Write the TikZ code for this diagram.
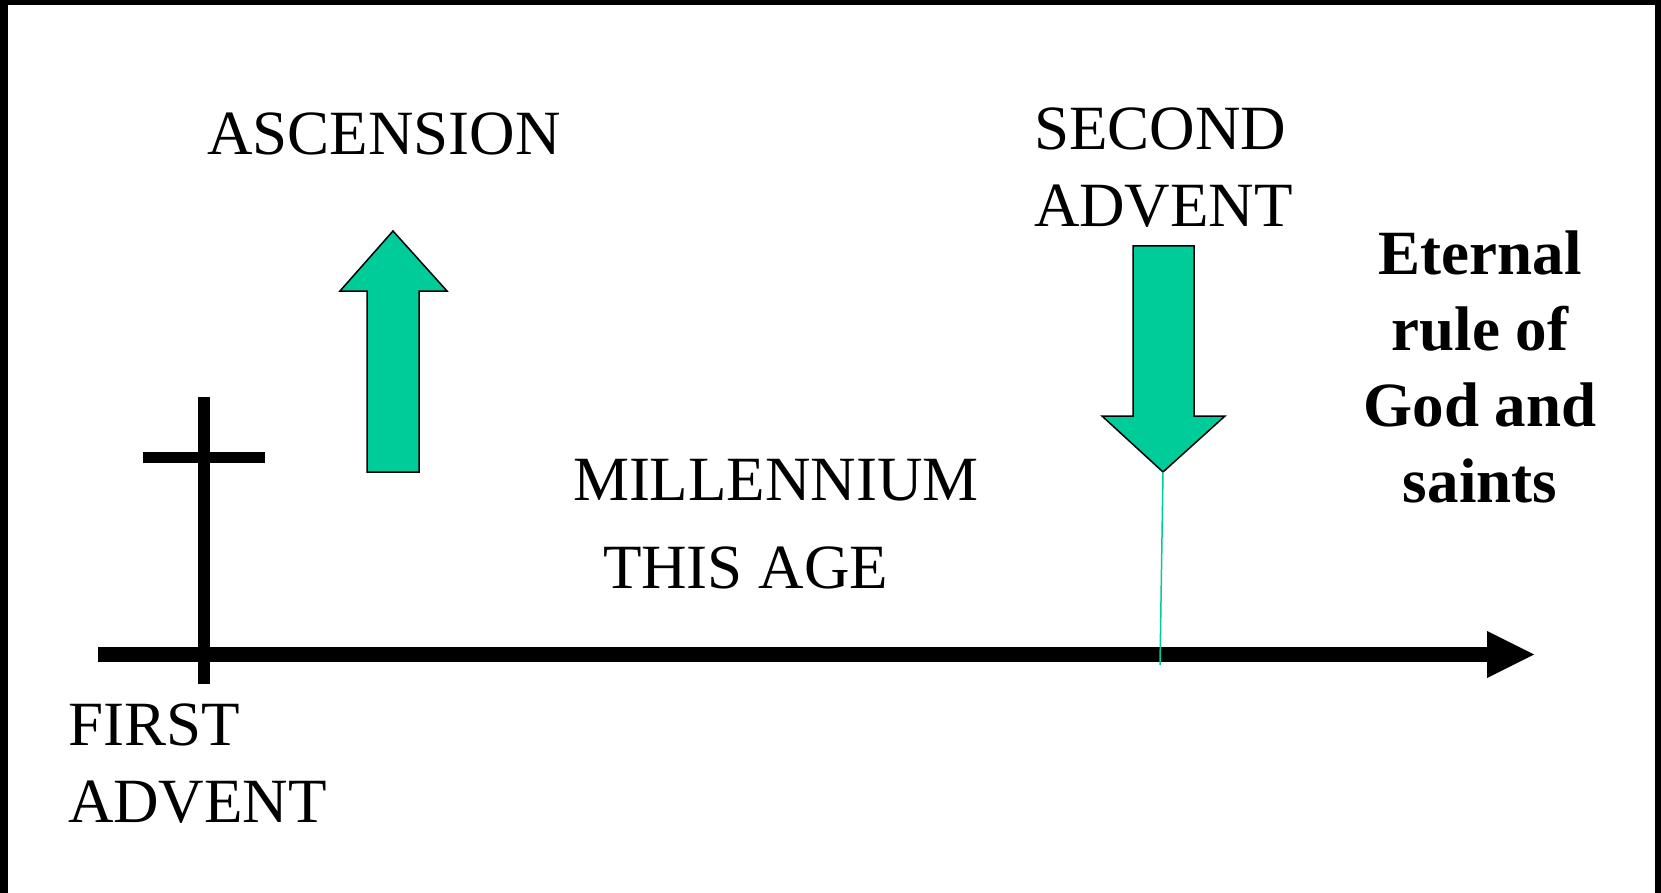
\documentclass[tikz,border=0pt]{standalone}
\usepackage{fontspec}
\setmainfont{Liberation Serif}
\definecolor{teal}{HTML}{00CC99}
\begin{document}
\begin{tikzpicture}[x=1pt,y=-1pt,
  lbl/.style={inner sep=0pt,outer sep=0pt,anchor=base west,align=left,font=\fontsize{63}{77}\selectfont},
  blbl/.style={inner sep=0pt,outer sep=0pt,anchor=base,align=center,font=\fontsize{63}{76}\selectfont\bfseries},
  bigarrow/.style={fill=teal,draw=black,line width=1.5pt,line join=miter},
  bar/.style={draw=black,line cap=butt}]
\useasboundingbox (0,0) rectangle (1661,893);
\fill[white] (0,0) rectangle (1661,893);
% border
\fill[black] (0,0) rectangle (8,893);
\fill[black] (0,0) rectangle (1661,5);
\fill[black] (1655,0) rectangle (1661,893);
% coordinates
\coordinate (axL) at (98,654.5);
\coordinate (axH) at (1487,654.5);
\coordinate (axT) at (1534,654.5);
\coordinate (crT) at (204,397);
\coordinate (crB) at (204,684);
\coordinate (cbL) at (143,457.5);
\coordinate (cbR) at (265,457.5);
\coordinate (dTip) at (1163,472);
\coordinate (dEnd) at (1160,665);
% cross
\draw[bar,line width=12pt] (crT) -- (crB);
\draw[bar,line width=11.5pt] (cbL) -- (cbR);
% time axis
\draw[bar,line width=15pt] (axL) -- (axH);
\fill[black] (1487,631) -- (axT) -- (1487,678) -- cycle;
% ascension arrow
\draw[bigarrow] (367,472) -- (367,291) -- (340,291) -- (393,231) -- (447,291) -- (419,291) -- (419,472) -- cycle;
% second advent arrow
\draw[bigarrow] (1133,246) -- (1194,246) -- (1194,416) -- (1225,416) -- (dTip) -- (1102,416) -- (1133,416) -- cycle;
\draw[teal,line width=1.5pt] (dTip) -- (dEnd);
% labels (base anchor = baseline of last line)
\node[lbl] (asc) at (207,155) {ASCENSION};
\node[lbl] (mil) at (573,500) {MILLENNIUM};
\node[lbl] (age) at (603,588) {THIS AGE};
\node[lbl] (sec) at (1034,227) {SECOND\\ADVENT};
\node[lbl] (fir) at (68,822) {FIRST\\ADVENT};
\node[blbl] (ete) at (1480,502) {Eternal\\rule of\\God and\\saints};
\end{tikzpicture}
\end{document}
